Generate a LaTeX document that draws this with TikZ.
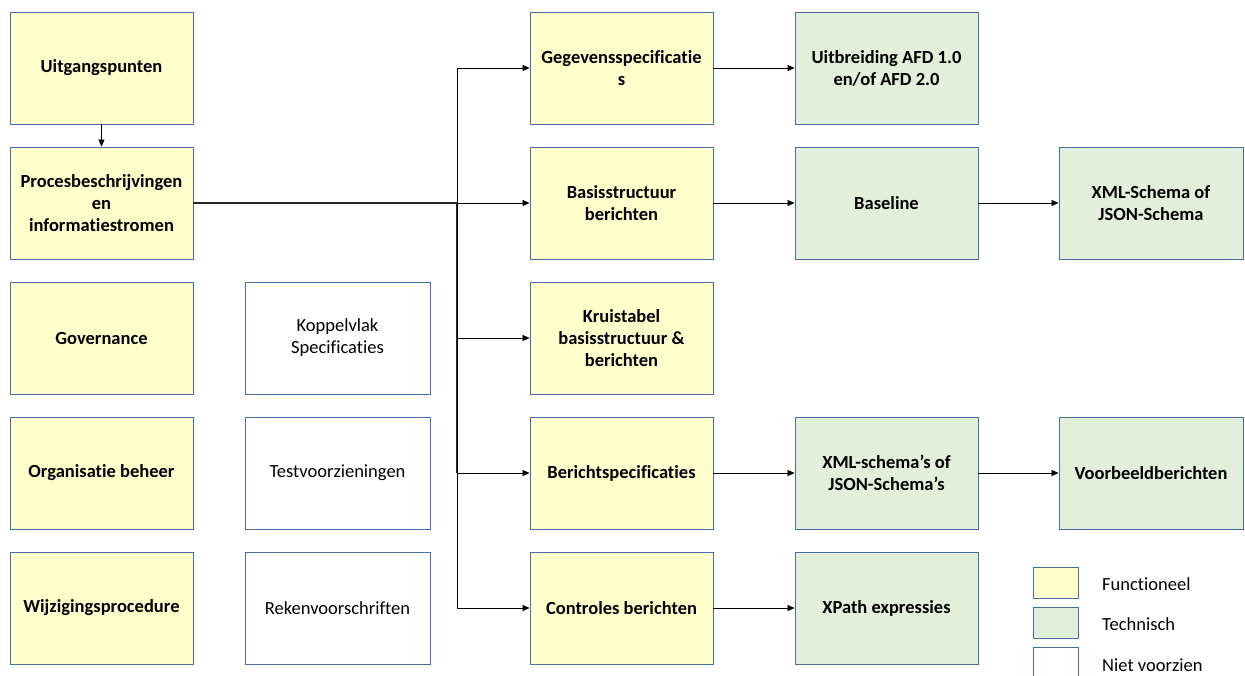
\documentclass[tikz,border=0pt]{standalone}
\usepackage{fontspec}
\setmainfont{Carlito}[Ligatures={NoCommon}]
\usetikzlibrary{arrows.meta}
\definecolor{fyellow}{RGB}{255,255,204}
\definecolor{tgreen}{RGB}{226,239,218}
\definecolor{bblue}{RGB}{72,108,168}
\tikzset{
  base/.style={draw=bblue, line width=0.9pt, minimum width=183pt, minimum height=112pt, inner sep=2pt, align=center, font=\fontsize{18.5}{22}\selectfont},
  fbox/.style={base, fill=fyellow, font=\fontsize{18.5}{22}\selectfont\bfseries},
  tbox/.style={base, fill=tgreen, font=\fontsize{18.5}{22}\selectfont\bfseries},
  nbox/.style={base, fill=white},
  lbox/.style={draw=bblue, line width=0.9pt, minimum width=45pt, minimum height=31pt, inner sep=0pt},
  ltext/.style={anchor=west, font=\fontsize{18.5}{22}\selectfont, inner sep=0pt},
  arr/.style={-{Triangle[length=7pt,width=6pt]}, line width=0.6pt, draw=black},
  mainln/.style={line width=1.3pt, draw=black!85},
}
\begin{document}
\begin{tikzpicture}[x=1pt,y=-1pt]
\useasboundingbox (0,0) rectangle (1245,675);
% column 1
\node[fbox] (uit) at (101.5,68) {Uitgangspunten};
\node[fbox] (proc) at (101.5,203) {Procesbeschrijvingen\\en\\informatiestromen};
\node[fbox] (gov) at (101.5,338) {Governance};
\node[fbox] (org) at (101.5,473) {Organisatie beheer};
\node[fbox] (wijz) at (101.5,608) {Wijzigingsprocedure};
% column 2
\node[nbox, minimum width=185pt] (kop) at (337.5,338) {Koppelvlak\\Specificaties};
\node[nbox, minimum width=185pt] (test) at (337.5,473) {Testvoorzieningen};
\node[nbox, minimum width=185pt] (reken) at (337.5,608) {Rekenvoorschriften};
% column 3
\node[fbox] (geg) at (621.5,68) {Gegevensspecificatie\\s};
\node[fbox] (basis) at (621.5,203) {Basisstructuur\\berichten};
\node[fbox] (kruis) at (621.5,338) {Kruistabel\\basisstructuur \&\\berichten};
\node[fbox] (bspec) at (621.5,473) {Berichtspecificaties};
\node[fbox] (contr) at (621.5,608) {Controles berichten};
% column 4
\node[tbox] (afd) at (886.5,68) {Uitbreiding AFD 1.0\\en/of AFD 2.0};
\node[tbox] (base) at (886.5,203) {Baseline};
\node[tbox] (xmls) at (886.5,473) {XML-schema’s of\\JSON-Schema’s};
\node[tbox] (xpath) at (886.5,608) {XPath expressies};
% column 5
\node[tbox, minimum width=184pt] (xml) at (1151,203) {XML-Schema of\\JSON-Schema};
\node[tbox, minimum width=184pt] (voorb) at (1151,473) {Voorbeeldberichten};
% legend
\node[lbox, fill=fyellow] (lf) at (1055.5,582.5) {};
\node[lbox, fill=tgreen] (lt) at (1055.5,622.5) {};
\node[lbox, fill=white] (ln) at (1055.5,662.5) {};
\node[ltext] (lft) at (1102,584) {Functioneel};
\node[ltext] (ltt) at (1102,624) {Technisch};
\node[ltext] (lnt) at (1102,665) {Niet voorzien};
% connectors
\coordinate (j) at (457,203);
\coordinate (jb) at (457,473);
\draw[arr] (uit) -- (proc);
\draw[mainln] (proc.east) -- (j);
\draw[mainln] (j) -- (jb);
\draw[arr] (j) |- (geg.west);
\draw[arr] (j) -- (basis.west);
\draw[arr] (j) |- (kruis.west);
\draw[arr] (j) |- (bspec.west);
\draw[arr] (j) |- (contr.west);
\draw[arr] (geg) -- (afd);
\draw[arr] (basis) -- (base);
\draw[arr] (bspec) -- (xmls);
\draw[arr] (contr) -- (xpath);
\draw[arr] (base) -- (xml);
\draw[arr] (xmls) -- (voorb);
\end{tikzpicture}
\end{document}
